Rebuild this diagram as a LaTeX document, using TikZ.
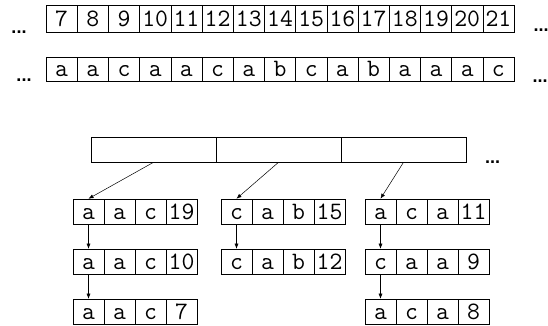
\documentclass[tikz,border=0pt]{standalone}
\usepackage{fontspec}
\setsansfont{Liberation Sans}
\usetikzlibrary{arrows.meta}
\newcommand{\cellfont}{\ttfamily\fontsize{25}{27}\selectfont}
\newcommand{\dotsfont}{\sffamily\bfseries\fontsize{18}{20}\selectfont}

\begin{document}
\begin{tikzpicture}[x=1pt,y=-1pt,line width=0.6pt,
  cell/.style={draw,minimum width=31.2pt,minimum height=24pt,inner sep=0pt,
    text height=17pt,text depth=2pt,font=\cellfont},
  slot/.style={draw,minimum width=125pt,minimum height=25pt,inner sep=0pt},
  more/.style={font=\dotsfont,inner sep=0pt},
  link/.style={-{Latex[length=5pt,width=4pt]},line width=0.5pt}]
\useasboundingbox (0,0) rectangle (548,325);

% index and text rows
\foreach \n [count=\i] in {7,...,21}
  \node[cell,minimum height=27pt,text height=18pt] (idx\i) at (46+31.2*\i-15.6,18.5) {\n};
\foreach \c [count=\i] in {a,a,c,a,a,c,a,b,c,a,b,a,a,a,c}
  \node[cell] (txt\i) at (46+31.2*\i-15.6,69) {\c};
\node[more] (idxl) at (19,32) {...};
\node[more] (idxr) at (541,30) {...};
\node[more] (txtl) at (24,80) {...};
\node[more] (txtr) at (540,81) {...};

% hash table
\foreach \s in {1,2,3}
  \node[slot] (slot\s) at (91+125*\s-62.5,149.5) {};
\node[more] (slotr) at (492.5,162) {...};

% buckets
\foreach \col/\row/\xo/\yo/\entries in {
    1/1/73/211.5/{a,a,c,19}, 1/2/73/261.5/{a,a,c,10}, 1/3/73/311.5/{a,a,c,7},
    2/1/221/211.5/{c,a,b,15}, 2/2/221/261.5/{c,a,b,12},
    3/1/365/211.5/{a,c,a,11}, 3/2/365/261.5/{c,a,a,9}, 3/3/365/311.5/{a,c,a,8}}
  \foreach \t [count=\k] in \entries
    \node[cell,minimum width=31pt,minimum height=25pt] (b\col-\row-\k) at (\xo+31*\k-15.5,\yo) {\t};

\foreach \s in {1,2,3}
  \draw[link] (slot\s.south) -- (b\s-1-1.north);
\foreach \a/\b in {1-1/1-2, 1-2/1-3, 2-1/2-2, 3-1/3-2, 3-2/3-3}
  \draw[link] (b\a-1.south) -- (b\b-1.north);
\end{tikzpicture}
\end{document}
